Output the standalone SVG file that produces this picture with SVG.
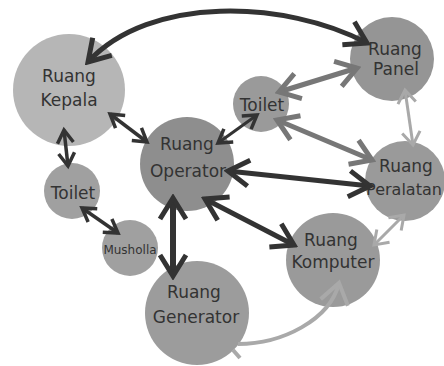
<svg xmlns="http://www.w3.org/2000/svg" width="444" height="366" viewBox="0 0 444 366">
  <style>
    .node { stroke: none; }
    .label { font-family: "DejaVu Sans", "Liberation Sans", sans-serif; font-size: 17px; fill: #333333; text-anchor: middle; }
    .small { font-size: 12px; }
    .fit { font-size: 16px; }
    .dark { fill: none; stroke: #333333; }
    .mid { fill: none; stroke: #777777; }
    .light { fill: none; stroke: #a9a9a9; }
  </style>
  <defs>
    <!-- open chevron heads, tip at the path end -->
    <marker id="headDarkL" markerUnits="userSpaceOnUse" viewBox="-30 -20 34 40" markerWidth="34" markerHeight="40" refX="0" refY="0" orient="auto-start-reverse">
      <path d="M-21,-13 L0,0 L-21,13" fill="none" stroke="#333333" stroke-width="5"/>
    </marker>
    <marker id="headDarkS" markerUnits="userSpaceOnUse" viewBox="-20 -14 24 28" markerWidth="24" markerHeight="28" refX="0" refY="0" orient="auto-start-reverse">
      <path d="M-13,-8 L0,0 L-13,8" fill="none" stroke="#333333" stroke-width="3.5"/>
    </marker>
    <marker id="headMid" markerUnits="userSpaceOnUse" viewBox="-30 -20 34 40" markerWidth="34" markerHeight="40" refX="0" refY="0" orient="auto-start-reverse">
      <path d="M-20,-13 L0,0 L-20,13" fill="none" stroke="#777777" stroke-width="5"/>
    </marker>
    <marker id="headLightS" markerUnits="userSpaceOnUse" viewBox="-20 -14 24 28" markerWidth="24" markerHeight="28" refX="0" refY="0" orient="auto-start-reverse">
      <path d="M-13,-9 L0,0 L-13,9" fill="none" stroke="#a9a9a9" stroke-width="3"/>
    </marker>
    <marker id="headLightL" markerUnits="userSpaceOnUse" viewBox="-30 -20 34 40" markerWidth="34" markerHeight="40" refX="0" refY="0" orient="auto-start-reverse">
      <path d="M-20,-14 L0,0 L-20,14" fill="none" stroke="#a9a9a9" stroke-width="4"/>
    </marker>
  </defs>

  <rect width="444" height="366" fill="#ffffff"/>

  <!-- rooms -->
  <g id="ruang-kepala">
    <circle class="node" cx="69" cy="90" r="56" fill="#b6b6b6"/>
    <text class="label" x="69" y="82">Ruang</text>
    <text class="label" x="69" y="106">Kepala</text>
  </g>
  <g id="ruang-operator">
    <circle class="node" cx="187" cy="164" r="47" fill="#8e8e8e"/>
    <text class="label" x="187" y="150">Ruang</text>
    <text class="label" x="188" y="177">Operator</text>
  </g>
  <g id="toilet-atas">
    <circle class="node" cx="261" cy="104" r="28" fill="#9a9a9a"/>
    <text class="label" x="262" y="111">Toilet</text>
  </g>
  <g id="ruang-panel">
    <circle class="node" cx="392" cy="59" r="42" fill="#959595"/>
    <text class="label" x="395" y="55">Ruang</text>
    <text class="label" x="396" y="75">Panel</text>
  </g>
  <g id="ruang-peralatan">
    <circle class="node" cx="405" cy="181" r="40" fill="#9a9a9a"/>
    <text class="label" x="406" y="172">Ruang</text>
    <text class="label fit" x="404" y="195">Peralatan</text>
  </g>
  <g id="ruang-komputer">
    <circle class="node" cx="333" cy="260" r="47" fill="#9a9a9a"/>
    <text class="label" x="331" y="246">Ruang</text>
    <text class="label" x="333" y="268">Komputer</text>
  </g>
  <g id="ruang-generator">
    <circle class="node" cx="197" cy="313" r="52" fill="#9c9c9c"/>
    <text class="label" x="194" y="298">Ruang</text>
    <text class="label" x="196" y="323">Generator</text>
  </g>
  <g id="toilet-kiri">
    <circle class="node" cx="72" cy="191" r="28" fill="#a0a0a0"/>
    <text class="label" x="73" y="199">Toilet</text>
  </g>
  <g id="musholla">
    <circle class="node" cx="130" cy="248" r="28" fill="#a0a0a0"/>
    <text class="label small" x="130" y="254">Musholla</text>
  </g>

  <!-- connections -->
  <g id="connectors">
    <path class="dark" stroke-width="5" d="M88,62 C150,-5 285,0 367,43" marker-start="url(#headDarkL)" marker-end="url(#headDarkL)"/>
    <path class="dark" stroke-width="3.5" d="M110,114 L147,142" marker-start="url(#headDarkS)" marker-end="url(#headDarkS)"/>
    <path class="dark" stroke-width="3.5" d="M64,130 L68,166" marker-start="url(#headDarkS)" marker-end="url(#headDarkS)"/>
    <path class="dark" stroke-width="3.5" d="M82,208 L118,233" marker-start="url(#headDarkS)" marker-end="url(#headDarkS)"/>
    <path class="dark" stroke-width="3" d="M218,143 L257,115" marker-start="url(#headDarkS)" marker-end="url(#headDarkS)"/>
    <path class="dark" stroke-width="5" d="M228,171 L370,186" marker-start="url(#headDarkL)" marker-end="url(#headDarkL)"/>
    <path class="dark" stroke-width="5" d="M205,199 L294,245" marker-start="url(#headDarkL)" marker-end="url(#headDarkL)"/>
    <path class="dark" stroke-width="6" d="M173,198 L173,276" marker-start="url(#headDarkL)" marker-end="url(#headDarkL)"/>
    <path class="mid" stroke-width="5" d="M279,92 L357,68" marker-start="url(#headMid)" marker-end="url(#headMid)"/>
    <path class="mid" stroke-width="5" d="M277,120 L372,160" marker-start="url(#headMid)" marker-end="url(#headMid)"/>
    <path class="light" stroke-width="3" d="M405,90 L413,145" marker-start="url(#headLightS)" marker-end="url(#headLightS)"/>
    <path class="light" stroke-width="3" d="M404,215 L374,245" marker-start="url(#headLightS)" marker-end="url(#headLightS)"/>
    <path class="light" stroke-width="4" d="M238,344 C282,344 330,320 339,283" marker-end="url(#headLightL)"/>
    <path class="light" stroke-width="4" d="M233,350 L240,358"/>
  </g>
</svg>
